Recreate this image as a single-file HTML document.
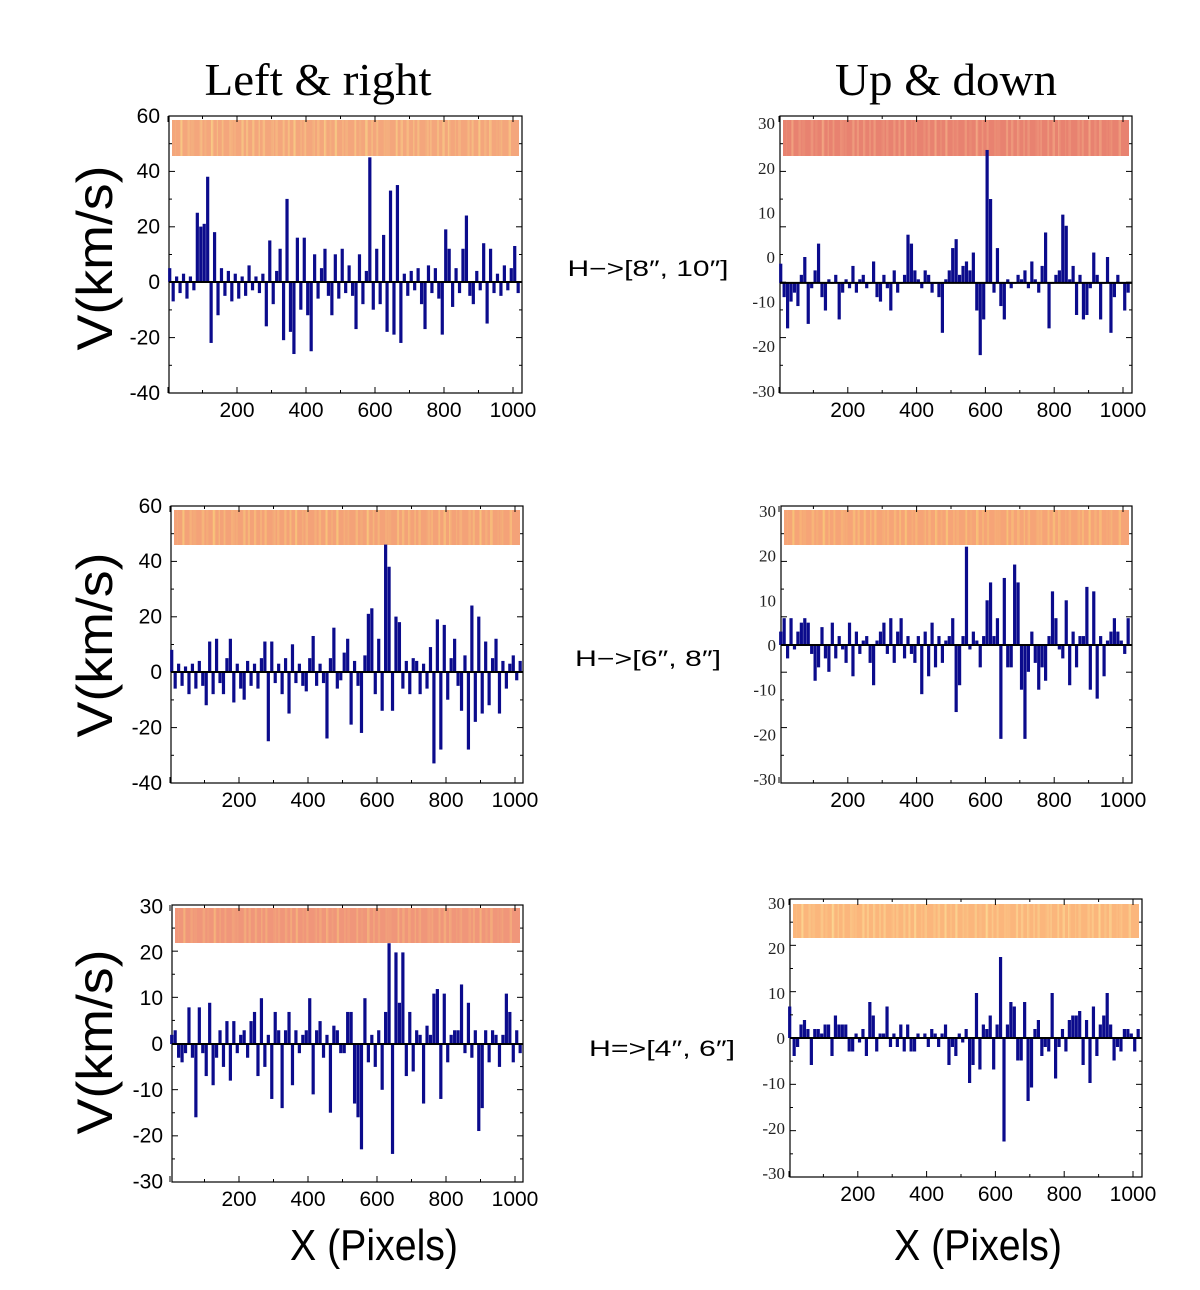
<!DOCTYPE html>
<html><head><meta charset="utf-8"><style>
html,body{margin:0;padding:0;background:#fff}
svg{display:block}
</style></head><body>
<svg id="fig" width="1200" height="1290" viewBox="0 0 1200 1290" xmlns="http://www.w3.org/2000/svg">
<rect width="1200" height="1290" fill="#fff"/>
<text x="318" y="95" font-family="Liberation Serif, serif" font-size="46" text-anchor="middle" textLength="227" lengthAdjust="spacingAndGlyphs">Left &amp; right</text>
<text x="946" y="95" font-family="Liberation Serif, serif" font-size="46" text-anchor="middle" textLength="222" lengthAdjust="spacingAndGlyphs">Up &amp; down</text>
<text transform="translate(112,258) rotate(-90)" font-family="Liberation Sans, sans-serif" font-size="50" text-anchor="middle" textLength="185" lengthAdjust="spacingAndGlyphs">V(km/s)</text>
<text transform="translate(112,645) rotate(-90)" font-family="Liberation Sans, sans-serif" font-size="50" text-anchor="middle" textLength="185" lengthAdjust="spacingAndGlyphs">V(km/s)</text>
<text transform="translate(112,1042) rotate(-90)" font-family="Liberation Sans, sans-serif" font-size="50" text-anchor="middle" textLength="185" lengthAdjust="spacingAndGlyphs">V(km/s)</text>
<text x="374" y="1260" font-family="Liberation Sans, sans-serif" font-size="44" text-anchor="middle" textLength="168" lengthAdjust="spacingAndGlyphs">X (Pixels)</text>
<text x="978" y="1260" font-family="Liberation Sans, sans-serif" font-size="44" text-anchor="middle" textLength="168" lengthAdjust="spacingAndGlyphs">X (Pixels)</text>
<text x="648" y="276" font-family="Liberation Sans, sans-serif" font-size="22" text-anchor="middle" textLength="161" lengthAdjust="spacingAndGlyphs">H−&gt;[8″, 10″]</text>
<text x="648" y="666" font-family="Liberation Sans, sans-serif" font-size="22" text-anchor="middle" textLength="146" lengthAdjust="spacingAndGlyphs">H−&gt;[6″, 8″]</text>
<text x="662" y="1056" font-family="Liberation Sans, sans-serif" font-size="22" text-anchor="middle" textLength="146" lengthAdjust="spacingAndGlyphs">H=&gt;[4″, 6″]</text>
</svg>
<script>
// ---- data (x in pixels-of-image units, v in km/s) ----
const p1x=[5,15,25,35,45,55,65,75,85,95,105,115,125,135,145,155,165,175,185,195,205,215,225,235,245,255,265,275,285,295,305,315,325,335,345,355,365,375,385,395,405,415,425,435,445,455,465,475,485,495,505,515,525,535,545,555,565,575,585,595,605,615,625,635,645,655,665,675,685,695,705,715,725,735,745,755,765,775,785,795,805,815,825,835,845,855,865,875,885,895,905,915,925,935,945,955,965,975,985,995,1005,1015];
const p1v=[5,-7,2,-4,3,-6,2,-3,25,20,21,38,-22,18,-12,5,-5,4,-7,3,-6,2,-5,6,-3,2,-4,3,-16,15,-8,4,12,-21,30,-18,-26,16,-10,16,-12,-25,10,-6,5,12,-5,-12,10,-6,12,-4,6,-5,-17,10,-8,4,45,-10,12,-8,17,-18,33,-19,35,-22,3,-5,4,-3,5,-8,-17,6,-4,5,-6,-19,19,12,-9,5,-4,12,24,-5,-8,4,-3,14,-15,12,-4,3,-5,6,-3,5,13,-4];
const p2x=[5,15,25,35,45,55,65,75,85,95,105,115,125,135,145,155,165,175,185,195,205,215,225,235,245,255,265,275,285,295,305,315,325,335,345,355,365,375,385,395,405,415,425,435,445,455,465,475,485,495,505,515,525,535,545,555,565,575,585,595,605,615,625,635,645,655,665,675,685,695,705,715,725,735,745,755,765,775,785,795,805,815,825,835,845,855,865,875,885,895,905,915,925,935,945,955,965,975,985,995,1005,1015];
const p2v=[-1.5,-9,-16,-10,-8,-11,-4,0,-15,-7,-3,3,-9,-12,-5,-6,-4,-14,-8,-5,-7,-2,-8,-5,-4,-7,-6,-1,-9,-10,-4,-7,-12,-3,-8,-6,-4,5,3,-3,-5,-7,-3,-4,-8,-6,-9,-17,-5,-3,2,4,-4,-2,-1,-3,1,-12,-22,-14,24,13,-8,2,-11,-14,-5,-7,-6,-4,-5,-3,-7,-1,-5,-8,-2,5.5,-16,-6,-4,-3,9.5,7,-5,-2,-13,-4,-14,-13,-7,1,-4,-14,-6,0,-17,-9,-4,-6,-12,-8];
const p3x=[5,15,25,35,45,55,65,75,85,95,105,115,125,135,145,155,165,175,185,195,205,215,225,235,245,255,265,275,285,295,305,315,325,335,345,355,365,375,385,395,405,415,425,435,445,455,465,475,485,495,505,515,525,535,545,555,565,575,585,595,605,615,625,635,645,655,665,675,685,695,705,715,725,735,745,755,765,775,785,795,805,815,825,835,845,855,865,875,885,895,905,915,925,935,945,955,965,975,985,995,1005,1015];
const p3v=[8,-6,3,-5,2,-8,3,-6,4,-5,-12,11,-8,12,-4,-8,5,12,-11,3,-6,-10,4,-5,3,-6,5,11,-25,11,-4,3,-8,5,-15,10,-4,3,-5,-7,5,13,-5,3,-4,-24,5,16,-6,-3,7,12,-19,4,-5,-22,6,21,23,-8,12,-14,46,38,-14,20,18,-6,4,-8,5,4,-8,3,-6,9,-33,19,-28,17,-10,5,12,-5,-14,6,-28,24,-18,20,-15,11,-12,5,12,-15,4,-6,3,6,-3,4];
const p4x=[5,15,25,35,45,55,65,75,85,95,105,115,125,135,145,155,165,175,185,195,205,215,225,235,245,255,265,275,285,295,305,315,325,335,345,355,365,375,385,395,405,415,425,435,445,455,465,475,485,495,505,515,525,535,545,555,565,575,585,595,605,615,625,635,645,655,665,675,685,695,705,715,725,735,745,755,765,775,785,795,805,815,825,835,845,855,865,875,885,895,905,915,925,935,945,955,965,975,985,995,1005,1015];
const p4v=[3,6,-3,6,-1,3,5,6,5,-2,-8,-5,4,-3,-6,5,-3,2,-1,-4,5,-7,3,-2,1,2,-4,-9,1,3,5,-2,6,-4,3,6,-3,2,-2,-4,2,-11,3,-7,5,-5,2,-4,1,2,6,-15,-9,2,22,-1,3,1,-5,2,10,14,2,6,-21,15,-5,-5,18,14,-10,-21,-6,3,-4,-10,-5,-8,2,12,6,-1,-3,10,-9,3,-5,2,2,13,-10,12,-12,2,-7,1,3,6,3,1,-2,6];
const p5x=[5,15,25,35,45,55,65,75,85,95,105,115,125,135,145,155,165,175,185,195,205,215,225,235,245,255,265,275,285,295,305,315,325,335,345,355,365,375,385,395,405,415,425,435,445,455,465,475,485,495,505,515,525,535,545,555,565,575,585,595,605,615,625,635,645,655,665,675,685,695,705,715,725,735,745,755,765,775,785,795,805,815,825,835,845,855,865,875,885,895,905,915,925,935,945,955,965,975,985,995,1005,1015];
const p5v=[2,3,-3,-4,-2,8,-3,-16,8,-2,-7,9,-9,-3,3,-5,5,-8,5,-2,2,3,-3,5,7,-7,10,-5,2,-12,7,3,-14,3,7,-9,3,-2,2,3,10,-11,3,5,-3,2,-15,4,3,-2,-2,7,7,-13,-16,-23,10,-4,2,-5,3,-10,7,22,-24,20,9,20,-7,7,-6,3,2,-13,4,2,11,12,-12,11,-4,2,3,3,13,-2,9,-3,3,-19,-14,3,-4,3,2,-5,2,11,7,-4,3,-2];
const p6x=[2,15,25,35,45,55,65,75,85,95,105,115,125,135,145,155,165,175,185,195,205,215,225,235,245,255,265,275,285,295,305,315,325,335,345,355,365,375,385,395,405,415,425,435,445,455,465,475,485,495,505,515,525,535,545,555,565,575,585,595,605,615,625,635,645,655,665,675,685,695,705,715,725,735,745,755,765,775,785,795,805,815,825,835,845,855,865,875,885,895,905,915,925,935,945,955,965,975,985,995,1005,1015];
const p6v=[7,-4,-2,3,4,2,-6,2,2,1,3,3,-4,5,3,3,3,-3,-3,1,-1,2,-4,8,5,-3,1,1,7,-2,1,-2,3,-3,3,-3,-3,1,0,1,-2,2,1,-2,1,3,-6,-2,-4,1,-1,2,-10,-6,10,-7,3,2,5,-7,3,18,-23,3,8,7,-5,-5,8,-14,-11,2,4,-4,-2,-3,10,-9,-2,2,-3,4,5,5,6,-6,4,-10,7,-4,3,5,10,3,-5,-2,-3,2,2,1,-3,2];
const leftTicks=[60,40,20,0,-20,-40];
const rightTicks=[30,20,10,0,-10,-20,-30];
const xTicks=[200,400,600,800,1000];

const panels=[
 {name:'left-right-row1',L:169,R:522,T:116,B:393,x0:168,xk:.345,y0:282,yk:2.77,base:0,labels:leftTicks,serif:false,bandT:120,bandB:156,band:'#f4a67c',streak:'#fbd98a',xs:p1x,vs:p1v,nt:5},
 {name:'up-down-row1',L:780,R:1132,T:116,B:393,x0:779,xk:.344,y0:257,yk:4.46,base:-5.8,labels:rightTicks,serif:true,bandT:120,bandB:156,band:'#e88270',streak:'#f6b48a',xs:p2x,vs:p2v,nt:5},
 {name:'left-right-row2',L:171,R:523,T:506,B:783,x0:170,xk:.345,y0:672,yk:2.77,base:0,labels:leftTicks,serif:false,bandT:510,bandB:545,band:'#f4a278',streak:'#fbd47e',xs:p3x,vs:p3v,nt:5},
 {name:'up-down-row2',L:781,R:1132,T:506,B:783,x0:779,xk:.344,y0:645,yk:4.47,base:0,labels:rightTicks,serif:true,bandT:510,bandB:545,band:'#f6a477',streak:'#fbd27a',xs:p4x,vs:p4v,nt:5},
 {name:'left-right-row3',L:172,R:523,T:905,B:1182,x0:170,xk:.345,y0:1044,yk:4.58,base:0,labels:rightTicks,serif:false,bandT:908,bandB:943,band:'#f0967a',streak:'#f8c07e',xs:p5x,vs:p5v,nt:6},
 {name:'up-down-row3',L:790,R:1142,T:899,B:1177,x0:789,xk:.344,y0:1038,yk:4.5,base:0,labels:rightTicks,serif:true,bandT:904,bandB:938,band:'#fbb67c',streak:'#fde29a',xs:p6x,vs:p6v,nt:6}
];
const NS='http://www.w3.org/2000/svg';
const svg=document.getElementById('fig');
function mk(tag,attrs,parent){const e=document.createElementNS(NS,tag);for(const k in attrs)e.setAttribute(k,attrs[k]);(parent||svg).appendChild(e);return e;}
panels.forEach(p=>{
 const g=mk('g',{});
 
 
 const xS=u=>p.x0+p.xk*u, yS=v=>p.y0-p.yk*v;
 const fr=mk('rect',{x:p.L,y:p.T,width:p.R-p.L,height:p.B-p.T,fill:'none',stroke:'#000','stroke-width':1.2},g);
 
 
 const bd=mk('rect',{x:p.L+3,y:p.bandT,width:p.R-p.L-6,height:p.bandB-p.bandT,fill:p.band},g);
 
 
 for(let i=0;i<90;i++){
  const sx=p.L+6+i*(p.R-p.L-14)/90+2*Math.sin(i*2.3);
  const s=mk('rect',{x:sx,y:p.bandT,width:1+Math.abs(Math.sin(i*1.7))*1.5,height:p.bandB-p.bandT,fill:p.streak,opacity:0.15+0.35*Math.abs(Math.sin(i*0.77)*Math.cos(i*0.31))},g);
  
  
 }
 const yb=yS(p.base);
 p.xs.forEach((u,i)=>{
  const v=p.vs[i], y=yS(v);
  const b=mk('rect',{x:xS(u)-1.6,y:Math.min(y,yb),width:3.2,height:Math.abs(y-yb),fill:'#0b0b8c'},g);
  
  
 });
 const bl=mk('line',{x1:p.L,x2:p.R,y1:yb,y2:yb,stroke:'#000','stroke-width':2},g);
 
 
 for(let i=0;i<=p.nt*2;i++){
  const ty=p.T+i*(p.B-p.T)/(p.nt*2), len=i%2?3:6;
  mk('line',{x1:p.R,x2:p.R-len,y1:ty,y2:ty,stroke:'#000','stroke-width':1},g);
  mk('line',{x1:p.L,x2:p.L+len,y1:ty,y2:ty,stroke:'#000','stroke-width':1},g);
 }
 for(let u=0;u<=1000;u+=100){
  const tx=xS(u), len=u%200?3:6;
  mk('line',{x1:tx,x2:tx,y1:p.B,y2:p.B-len,stroke:'#000','stroke-width':1},g);
  mk('line',{x1:tx,x2:tx,y1:p.T,y2:p.T+len,stroke:'#000','stroke-width':1},g);
 }
 p.labels.forEach(v=>{
  const t=mk('text',{x:p.L-(p.serif?5:9),y:yS(v)+(p.serif?6:7),'text-anchor':'end','font-family':p.serif?'Liberation Serif, serif':'Liberation Sans, sans-serif','font-size':p.serif?17:21,fill:p.serif?'#222':'#000'},g);
  t.textContent=v;
  
  
 });
 xTicks.forEach(u=>{
  const t=mk('text',{x:xS(u),y:p.B+24,'text-anchor':'middle','font-family':'Liberation Sans, sans-serif','font-size':21},g);
  t.textContent=u;
  
  
 });
});
</script>
</body></html>
